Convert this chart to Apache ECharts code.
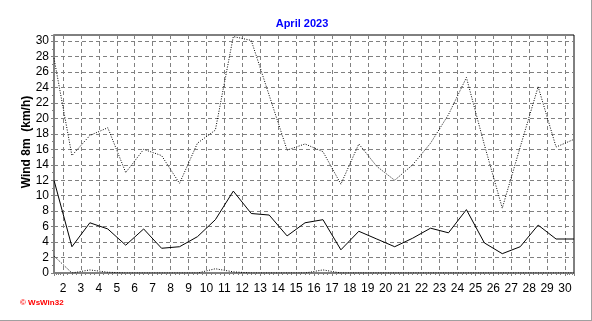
<!DOCTYPE html>
<html>
<head>
<meta charset="utf-8">
<script src="https://cdn.jsdelivr.net/npm/echarts@6/dist/echarts.min.js"></script>
<style>
html,body{margin:0;padding:0;background:#fff;}
#chart{width:592px;height:321px;}
</style>
</head>
<body>
<div id="chart"></div>
<script>
const title = 'April 2023';
const yAxisName = 'Wind 8m  (km/h)';
const days = [1,2,3,4,5,6,7,8,9,10,11,12,13,14,15,16,17,18,19,20,21,22,23,24,25,26,27,28,29,30];
const maxGust = [27.8,15.2,17.8,18.8,13.0,16.0,15.2,11.6,16.8,18.5,30.6,30.1,23.0,15.9,16.7,15.7,11.5,16.7,13.8,12.0,14.0,16.8,20.5,25.3,16.6,8.4,16.3,24.1,16.3,17.3];
const avgWind = [12.0,3.4,6.5,5.7,3.6,5.7,3.2,3.4,4.7,6.9,10.6,7.7,7.5,4.8,6.5,6.9,3.0,5.4,4.4,3.4,4.5,5.8,5.2,8.2,3.9,2.5,3.4,6.2,4.4,4.4];
const minWind = [2.2,0,0.4,0.1,0,0,0,0,0,0.55,0.15,0,0,0,0,0.4,0,0,0,0,0,0,0,0,0,0,0,0,0,0];
const yMin = 0, yMax = 30.8, yStep = 2;

const DAY = 86400000;
const toTime = d => new Date(2023, 3, d, 12).getTime();
const mk = arr => days.map((d, i) => [toTime(d), arr[i]]);

const gridDash = {color: '#808080', width: 1, type: [4, 3]};
const lineBase = {color: '#000', width: 1};

const chart = echarts.init(document.getElementById('chart'), null, {renderer: 'canvas'});
chart.setOption({
  animation: false,
  backgroundColor: '#fff',
  textStyle: {fontFamily: 'Liberation Sans, Arial, sans-serif'},
  title: {
    text: title, left: 297, top: 13, textAlign: 'center',
    textStyle: {color: '#0000ff', fontSize: 11, fontWeight: 'bold', fontFamily: 'Liberation Sans, Arial, sans-serif'}
  },
  grid: {left: 54, right: 18, top: 35, bottom: 48, show: true, borderColor: '#000', borderWidth: 1, backgroundColor: 'transparent'},
  xAxis: {
    type: 'time',
    min: toTime(days[0]), max: toTime(days[days.length - 1]),
    minInterval: DAY, maxInterval: DAY,
    axisLine: {show: true, lineStyle: {color: '#808080', width: 2}},
    axisTick: {show: true, length: 3, lineStyle: {color: '#808080'}},
    minorTick: {show: true, splitNumber: 4, length: 2, lineStyle: {color: '#808080'}},
    axisLabel: {
      formatter: v => String(new Date(v).getDate()),
      color: '#000', fontSize: 12, margin: 10,
      showMinLabel: false, showMaxLabel: false, hideOverlap: false
    },
    splitLine: {show: true, lineStyle: gridDash, showMinLine: false, showMaxLine: false}
  },
  yAxis: {
    type: 'value', min: yMin, max: yMax, interval: yStep,
    axisLine: {show: true, lineStyle: {color: '#808080', width: 2}},
    axisTick: {show: true, length: 3, lineStyle: {color: '#808080'}},
    minorTick: {show: true, splitNumber: 2, length: 2, lineStyle: {color: '#808080'}},
    axisLabel: {color: '#000', fontSize: 12, margin: 5, showMaxLabel: false},
    splitLine: {show: true, lineStyle: gridDash, showMinLine: false, showMaxLine: false}
  },
  graphic: [
    {type: 'text', x: 27, y: 142, rotation: Math.PI / 2,
      style: {text: yAxisName, fill: '#000', font: 'bold 12px "Liberation Sans", Arial, sans-serif', align: 'center', verticalAlign: 'middle'}},
    {type: 'text', x: 20, y: 303,
      style: {text: '\u00a9 WsWin32', fill: '#ff0000', font: 'bold 8px "Liberation Sans", Arial, sans-serif', align: 'left', verticalAlign: 'middle'}},
    {type: 'line', shape: {x1: 591.5, y1: 0, x2: 591.5, y2: 321}, style: {stroke: '#a0a0a0', lineWidth: 1}},
    {type: 'line', shape: {x1: 0, y1: 320.5, x2: 592, y2: 320.5}, style: {stroke: '#a0a0a0', lineWidth: 1}}
  ],
  series: [
    {name: 'Max', type: 'line', data: mk(maxGust), showSymbol: false, lineStyle: Object.assign({}, lineBase, {type: [1, 1.5]}), z: 3},
    {name: 'Avg', type: 'line', data: mk(avgWind), showSymbol: false, lineStyle: Object.assign({}, lineBase, {type: 'solid'}), z: 4},
    {name: 'Min', type: 'line', data: mk(minWind), showSymbol: false, lineStyle: Object.assign({}, lineBase, {type: [1, 1.5]}), z: 3}
  ]
});
</script>
</body>
</html>
